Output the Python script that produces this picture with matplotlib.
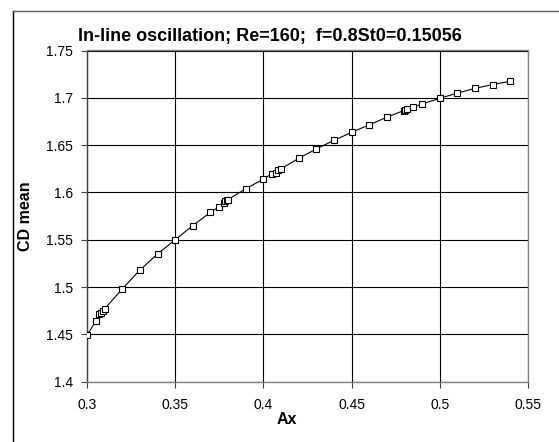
import matplotlib
matplotlib.use("Agg")
import matplotlib.pyplot as plt
from matplotlib.lines import Line2D

plt.rcParams['font.family'] = ['Liberation Sans', 'DejaVu Sans']

ax_vals = [0.300, 0.305, 0.307, 0.308, 0.309, 0.310, 0.320, 0.330, 0.340, 0.350,
           0.360, 0.370, 0.375, 0.3775, 0.3785, 0.3795, 0.380, 0.390, 0.400, 0.405,
           0.407, 0.408, 0.410, 0.420, 0.430, 0.440, 0.450, 0.460, 0.470, 0.4795,
           0.4805, 0.4815, 0.485, 0.490, 0.500, 0.510, 0.520, 0.530, 0.540]
cd_mean = [1.449, 1.464, 1.4715, 1.473, 1.4745, 1.477, 1.498, 1.518, 1.535, 1.550,
           1.565, 1.579, 1.585, 1.5885, 1.5905, 1.592, 1.5925, 1.604, 1.614, 1.620,
           1.621, 1.624, 1.625, 1.636, 1.646, 1.655, 1.6635, 1.6715, 1.6795, 1.6865,
           1.687, 1.688, 1.690, 1.6935, 1.6995, 1.705, 1.710, 1.714, 1.7175]

x_ticks = [0.3, 0.35, 0.4, 0.45, 0.5, 0.55]
x_labels = ['0.3', '0.35', '0.4', '0.45', '0.5', '0.55']
y_ticks = [1.4, 1.45, 1.5, 1.55, 1.6, 1.65, 1.7, 1.75]
y_labels = ['1.4', '1.45', '1.5', '1.55', '1.6', '1.65', '1.7', '1.75']

title = 'In-line oscillation; Re=160;  f=0.8St0=0.15056'

W, H = 559, 442
fig = plt.figure(figsize=(W / 100, H / 100), dpi=100)
fig.patch.set_facecolor('white')

ax = fig.add_axes([87 / W, 1 - 381.7 / H, (528 - 87) / W, (381.7 - 50.5) / H])
ax.plot(ax_vals, cd_mean, color='black', linewidth=0.8, marker='s',
        markersize=4.8, markerfacecolor='white', markeredgecolor='black',
        markeredgewidth=0.8, zorder=3)

ax.set_xlim(0.3, 0.55)
ax.set_ylim(1.4, 1.75)
ax.set_xticks(x_ticks)
ax.set_xticklabels(x_labels)
ax.set_yticks(y_ticks)
ax.set_yticklabels(y_labels)
ax.grid(True, color='black', linewidth=0.8)
ax.set_axisbelow(True)
for s in ax.spines.values():
    s.set_color('#808080')
    s.set_linewidth(1.0)
ax.spines['left'].set_color('#404040')
ax.tick_params(axis='both', direction='out', length=4, width=0.8,
               colors='#404040', labelcolor='black', labelsize=10, pad=6)
ax.tick_params(axis='x', pad=8)

fig.text(287 / W, 1 - 419 / H, 'Ax', ha='center', va='center',
         fontsize=11.5, fontweight='bold')
fig.text(25 / W, 1 - 216 / H, 'CD mean', ha='center', va='center',
         fontsize=11.5, fontweight='bold', rotation=90)
fig.text(270 / W, 1 - 37 / H, title, ha='center', va='center',
         fontsize=13, fontweight='bold')

# outer chart frame (left and top edges visible)
fig.add_artist(Line2D([13 / W, 13 / W], [0, 1 - 11 / H], color='black',
                      linewidth=1.0, transform=fig.transFigure))
fig.add_artist(Line2D([13 / W, 1], [1 - 11 / H, 1 - 11 / H], color='#606060',
                      linewidth=1.0, transform=fig.transFigure))

fig.savefig('out.png', dpi=100)
